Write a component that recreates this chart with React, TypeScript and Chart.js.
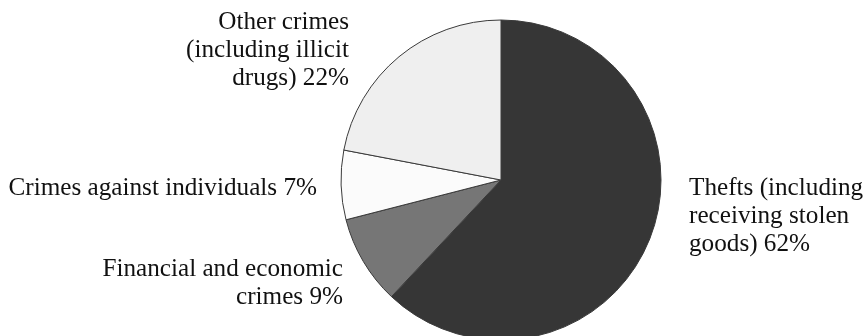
import React, { useEffect, useRef } from "react";
import { Chart, registerables } from "chart.js";

Chart.register(...registerables);

const categories = [
  "Thefts (including receiving stolen goods)",
  "Financial and economic crimes",
  "Crimes against individuals",
  "Other crimes (including illicit drugs)",
];
const shares = [62, 9, 7, 22];
const labelLines = [
  ["Thefts (including", "receiving stolen", "goods)"],
  ["Financial and economic", "crimes"],
  ["Crimes against individuals"],
  ["Other crimes", "(including illicit", "drugs)"],
];
const sliceColors = ["#363636", "#767676", "#fbfbfb", "#efefef"];

// label anchors: x, first baseline y, alignment
const labelAnchors = [
  { x: 689, y: 195, align: "left" },
  { x: 343, y: 276, align: "right" },
  { x: 317, y: 195, align: "right" },
  { x: 349, y: 29, align: "right" },
];

const FONT = '25.2px "Liberation Serif", "Times New Roman", serif';
const LINE_H = 28;

const labelPlugin = {
  id: "sliceLabels",
  afterDraw(chart: any) {
    const ctx = chart.ctx;
    ctx.save();
    ctx.font = FONT;
    ctx.fillStyle = "#111111";
    ctx.textBaseline = "alphabetic";
    labelLines.forEach((lines, i) => {
      const a = labelAnchors[i];
      ctx.textAlign = a.align;
      lines.forEach((ln, j) => {
        const text = j === lines.length - 1 ? `${ln} ${shares[i]}%` : ln;
        ctx.fillText(text, a.x, a.y + j * LINE_H);
      });
    });
    ctx.restore();
  },
};

export default function App() {
  const ref = useRef<HTMLCanvasElement | null>(null);
  useEffect(() => {
    document.body.style.margin = "0";
    const chart = new Chart(ref.current as HTMLCanvasElement, {
      type: "pie",
      data: {
        labels: categories,
        datasets: [
          {
            data: shares,
            backgroundColor: sliceColors,
            borderColor: "#3a3a3a",
            borderWidth: 1,
            clip: false,
          } as any,
        ],
      },
      options: {
        animation: false,
        responsive: false,
        radius: 160,
        layout: { padding: { left: 138, right: 0, top: 24, bottom: 0 } },
        plugins: {
          legend: { display: false },
          tooltip: { enabled: false },
        },
      } as any,
      plugins: [labelPlugin],
    });
    return () => chart.destroy();
  }, []);
  return (
    <div style={{ position: "fixed", left: 0, top: 0, width: 864, height: 336, background: "#fff" }}>
      <canvas ref={ref} width={864} height={336} style={{ width: 864, height: 336 }} />
    </div>
  );
}
